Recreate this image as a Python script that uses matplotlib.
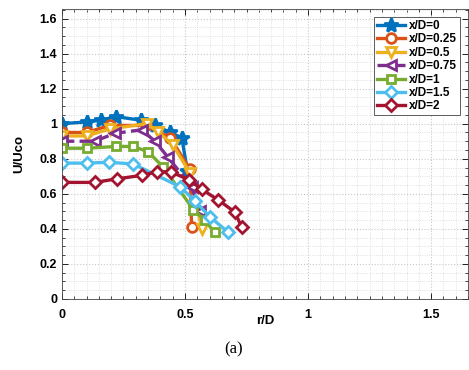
import matplotlib
matplotlib.use("Agg")
import matplotlib.pyplot as plt
from matplotlib.ticker import MultipleLocator

# radial profiles of U/Uco for each axial station
labels = ["x/D=0", "x/D=0.25", "x/D=0.5", "x/D=0.75", "x/D=1", "x/D=1.5", "x/D=2"]

r0 = [0.0, 0.10, 0.16, 0.22, 0.32, 0.38, 0.44, 0.487, 0.51]
u0 = [1.00, 1.01, 1.02, 1.04, 1.02, 0.99, 0.95, 0.92, 0.73]

r025 = [0.0, 0.10, 0.195, 0.34, 0.44, 0.52, 0.527]
u025 = [0.95, 0.95, 0.99, 0.99, 0.92, 0.74, 0.41]

r05 = [0.0, 0.10, 0.195, 0.344, 0.39, 0.45, 0.52, 0.568]
u05 = [0.93, 0.93, 0.97, 1.00, 0.955, 0.88, 0.72, 0.40]

r075 = [0.0, 0.134, 0.215, 0.324, 0.378, 0.43, 0.527, 0.56]
u075 = [0.90, 0.90, 0.945, 0.965, 0.90, 0.81, 0.64, 0.50]

r1 = [0.0, 0.10, 0.22, 0.29, 0.35, 0.41, 0.534, 0.58, 0.62]
u1 = [0.86, 0.86, 0.87, 0.87, 0.84, 0.755, 0.51, 0.45, 0.38]

r15 = [0.0, 0.10, 0.19, 0.29, 0.48, 0.54, 0.60, 0.676]
u15 = [0.775, 0.775, 0.78, 0.77, 0.64, 0.56, 0.47, 0.38]

r2 = [0.0, 0.134, 0.222, 0.324, 0.385, 0.442, 0.517, 0.568, 0.635, 0.703, 0.73]
u2 = [0.665, 0.665, 0.685, 0.705, 0.725, 0.725, 0.68, 0.625, 0.565, 0.495, 0.41]

colors = ["#0072BD", "#D95319", "#EDB120", "#7E2F8E", "#77AC30", "#4DBEEE", "#A2142F"]
markers = ["*", "o", "v", "<", "s", "D", "D"]
styles = ["-", "-", "-", "--", "-", "-", "-"]
sizes = [10, 7, 7, 7, 6, 6, 6]

plt.rcParams['font.family'] = ['Liberation Sans', 'DejaVu Sans']

fig = plt.figure(figsize=(4.69, 3.70), dpi=100)
ax = fig.add_axes([0.132, 0.192, 0.866, 0.784])

series = [(r0, u0), (r025, u025), (r05, u05), (r075, u075), (r1, u1), (r15, u15), (r2, u2)]
for i, (r, u) in enumerate(series):
    face = colors[i] if markers[i] == "*" else "white"
    ax.plot(r, u, linestyle=styles[i], color=colors[i], linewidth=2.4,
            marker=markers[i], markersize=sizes[i], markerfacecolor=face,
            markeredgecolor=colors[i], markeredgewidth=2, label=labels[i])

ax.set_xlim(0, 1.65)
ax.set_ylim(0, 1.655)
ax.xaxis.set_major_locator(MultipleLocator(0.5))
ax.xaxis.set_minor_locator(MultipleLocator(0.05))
ax.yaxis.set_major_locator(MultipleLocator(0.2))
ax.yaxis.set_minor_locator(MultipleLocator(0.05))
ax.xaxis.set_major_formatter(plt.FuncFormatter(lambda v, p: f"{v:g}"))
ax.yaxis.set_major_formatter(plt.FuncFormatter(lambda v, p: f"{v:g}"))
ax.grid(which="major", color="#c8c8c8", linestyle=":", linewidth=0.8)
ax.grid(which="minor", color="#d8d8d8", linestyle=":", linewidth=0.6)
ax.set_axisbelow(True)
ax.tick_params(which="both", direction="in", top=True, right=True, labelsize=9)
ax.tick_params(axis="x", pad=7)
ax.tick_params(which="major", length=4, width=0.6)
ax.tick_params(which="minor", length=2, width=0.5)
for lab in ax.get_xticklabels() + ax.get_yticklabels():
    lab.set_fontweight("bold")
for s in ax.spines.values():
    s.set_linewidth(0.6)
    s.set_color("#444444")

ax.set_xlabel("r/D", fontsize=9.5, fontweight="bold", labelpad=-4)
ax.set_ylabel("U/Uco", fontsize=9.5, fontweight="bold", labelpad=10)

leg = ax.legend(loc="upper right", bbox_to_anchor=(0.985, 0.98),
                prop={"weight": "bold", "size": 8.5}, frameon=True, fancybox=False,
                edgecolor="#444444", framealpha=1, handlelength=2.4,
                handletextpad=0.3, labelspacing=0.12, borderpad=0.25,
                borderaxespad=0.2)
leg.get_frame().set_linewidth(0.6)

fig.text(0.497, 0.055, "(a)", ha="center", va="center", fontsize=12,
         family=["Liberation Serif", "DejaVu Serif"])

fig.savefig("out.png", dpi=100)
